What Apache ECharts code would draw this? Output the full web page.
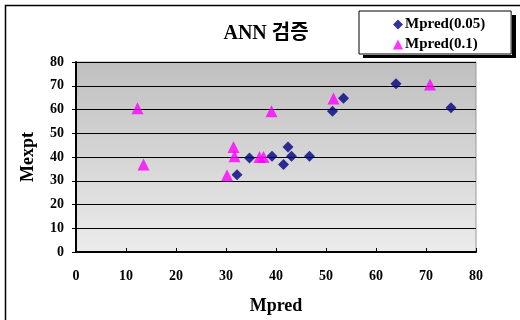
<!DOCTYPE html>
<html><head><meta charset="utf-8">
<script src="https://cdn.jsdelivr.net/npm/echarts@6/dist/echarts.min.js"></script>
<style>html,body{margin:0;padding:0;background:#fff}#c{width:520px;height:320px}</style>
</head><body><div id="c"></div>
<script>
const titleText = 'ANN 검증';
const seriesNames = ['Mpred(0.05)', 'Mpred(0.1)'];
const xTicks = [0,10,20,30,40,50,60,70,80];
const yTicks = [0,10,20,30,40,50,60,70,80];
const mpred005X = [32.2, 34.7, 39.2, 41.5, 42.4, 43.1, 46.7, 51.3, 53.5, 64.0, 75.0];
const mpred005Y = [32.5, 39.6, 40.3, 36.8, 44.2, 40.3, 40.3, 59.3, 64.7, 70.8, 60.7];
const mpred01X = [12.3, 13.5, 30.2, 31.5, 31.7, 36.7, 37.5, 39.1, 51.5, 70.8];
const mpred01Y = [60.5, 36.8, 32.3, 44.2, 40.3, 40.0, 40.0, 59.3, 64.6, 70.5];

const pairs = (xs, ys) => xs.map((x, i) => [x, ys[i]]);
const serif = '"Liberation Serif","Noto Sans CJK KR",serif';
const chart = echarts.init(document.getElementById('c'));
chart.setOption({
  animation: false,
  backgroundColor: '#fff',
  title: {
    text: titleText, left: 261, top: 19, textAlign: 'center',
    textStyle: {fontFamily: serif, fontWeight: 'bold', fontSize: 20, color: '#000'}
  },
  graphic: {
    elements: [
      {type: 'polyline', id: 'outer', z: 1, shape: {points: [[5.5, 330], [5.5, 5.5], [530, 5.5]]}, style: {fill: null, stroke: '#000', lineWidth: 1.5}},
      {type: 'line', id: 'shadowR', z: 20, shape: {x1: 514, y1: 15, x2: 514, y2: 58}, style: {stroke: '#000', lineWidth: 4}},
      {type: 'line', id: 'shadowB', z: 20, shape: {x1: 363, y1: 56.5, x2: 516, y2: 56.5}, style: {stroke: '#000', lineWidth: 3}}
    ]
  },
  legend: {
    orient: 'vertical', left: 359, top: 11, itemGap: 5, itemWidth: 10, itemHeight: 10,
    padding: [6, 26, 2, 34],
    backgroundColor: '#fff', borderColor: '#000', borderWidth: 1,
    z: 10,
    data: [
      {name: seriesNames[0], icon: 'diamond'},
      {name: seriesNames[1], icon: 'triangle'}
    ],
    textStyle: {fontFamily: serif, fontWeight: 'bold', fontSize: 15, color: '#000', padding: [0,0,0,-3]}
  },
  grid: {
    left: 76, top: 62, right: 44, bottom: 67, show: true, borderColor: '#999', borderWidth: 1,
    backgroundColor: new echarts.graphic.LinearGradient(0, 0, 0, 1, [
      {offset: 0, color: '#bfbfbf'}, {offset: 1, color: '#ececec'}
    ])
  },
  xAxis: {
    type: 'value', min: 0, max: 80, interval: 10,
    name: 'Mpred', nameLocation: 'middle', nameGap: 45,
    nameTextStyle: {fontFamily: serif, fontWeight: 'bold', fontSize: 18, color: '#000'},
    axisLine: {show: true, onZero: false, lineStyle: {color: '#000', width: 2}},
    axisTick: {show: true, inside: true, length: 4, lineStyle: {color: '#000', width: 1}},
    axisLabel: {fontFamily: serif, fontWeight: 'bold', fontSize: 14, color: '#000', margin: 17},
    splitLine: {show: false}
  },
  yAxis: {
    type: 'value', min: 0, max: 80, interval: 10,
    name: 'Mexpt', nameLocation: 'middle', nameGap: 39, nameRotate: 90,
    nameTextStyle: {fontFamily: serif, fontWeight: 'bold', fontSize: 18, color: '#000'},
    axisLine: {show: true, onZero: false, lineStyle: {color: '#000', width: 2}},
    axisTick: {show: true, inside: false, length: 4, lineStyle: {color: '#000', width: 1}},
    axisLabel: {fontFamily: serif, fontWeight: 'bold', fontSize: 14, color: '#000', margin: 12},
    splitLine: {show: true, lineStyle: {color: '#000', width: 1}}
  },
  series: [
    {name: seriesNames[0], type: 'scatter', symbol: 'diamond', symbolSize: 11,
     itemStyle: {color: '#000080'}, data: pairs(mpred005X, mpred005Y), z: 3},
    {name: seriesNames[1], type: 'scatter', symbol: 'triangle', symbolSize: 12,
     itemStyle: {color: '#ff00ff'}, data: pairs(mpred01X, mpred01Y), z: 2}
  ]
});
</script></body></html>
